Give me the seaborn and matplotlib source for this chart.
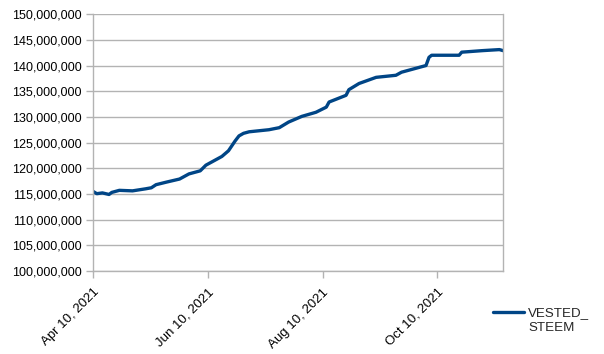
import pandas as pd
import numpy as np
import seaborn as sns
import matplotlib.pyplot as plt
import matplotlib.dates as mdates
from matplotlib.ticker import FuncFormatter

# day offsets from Apr 10, 2021 and VESTED_STEEM (millions)
days = [0, 2, 5, 8.5, 10, 14, 21, 28, 31, 33.5, 39, 46, 51, 57, 60, 63, 68.5, 72,
        75.5, 77.6, 80, 83, 93.5, 99, 104, 111, 118.5, 124, 125.5, 134.5, 136,
        141.4, 150.5, 161, 164, 177, 178.6, 180, 194.6, 196, 207, 216, 218]
vested = [115.5, 115.05, 115.2, 114.9, 115.3, 115.7, 115.6, 116.0, 116.2, 116.8,
          117.3, 117.9, 118.9, 119.5, 120.6, 121.2, 122.3, 123.4, 125.3, 126.3,
          126.8, 127.1, 127.5, 127.9, 129.0, 130.1, 130.9, 131.9, 132.9, 134.2,
          135.3, 136.5, 137.7, 138.1, 138.7, 140.0, 141.6, 142.0, 142.0, 142.6,
          142.9, 143.1, 142.9]
tick_dates = ["2021-04-10", "2021-06-10", "2021-08-10", "2021-10-10"]

start = pd.Timestamp("2021-04-10")
df = pd.DataFrame({
    "date": [start + pd.Timedelta(hours=d * 24) for d in days],
    "VESTED_STEEM": [v * 1e6 for v in vested],
})

sns.set_style("white")
plt.rcParams['font.family'] = ['Liberation Sans', 'DejaVu Sans']
plt.rcParams['font.size'] = 9

fig = plt.figure(figsize=(6.04, 3.54), dpi=100)
ax = fig.add_axes([0.154, 0.2345, 0.679, 0.7255])

sns.lineplot(data=df, x="date", y="VESTED_STEEM", ax=ax, color="#004586",
             linewidth=2.4, label="VESTED_")

grey = "#b3b3b3"
ax.set_ylim(100e6, 150e6)
ax.set_yticks(np.arange(100e6, 150e6 + 1, 5e6))
ax.yaxis.set_major_formatter(FuncFormatter(lambda v, p: f"{v:,.0f}"))
ax.set_xlim(start, pd.Timestamp("2021-11-14"))
ax.set_xticks(pd.to_datetime(tick_dates))
ax.xaxis.set_major_formatter(mdates.DateFormatter("%b %d, %Y"))
ax.set_xlabel("")
ax.set_ylabel("")

ax.grid(axis="y", color=grey, linewidth=1)
ax.grid(axis="x", visible=False)
for side in ["left", "right", "bottom"]:
    ax.spines[side].set_color(grey)
    ax.spines[side].set_linewidth(1)
ax.spines["top"].set_visible(False)
ax.tick_params(axis="both", direction="out", length=5, color=grey, width=1,
               labelcolor="black")
ax.tick_params(axis="y", left=True, pad=3, labelsize=9)
ax.tick_params(axis="x", bottom=True, pad=6, labelsize=9.5)
for lab in ax.get_xticklabels():
    lab.set_rotation(45)
    lab.set_ha("right")
    lab.set_rotation_mode("anchor")

leg = ax.legend(loc="center left", bbox_to_anchor=(0.806, 0.115),
                bbox_transform=fig.transFigure, frameon=False, handlelength=2.3,
                handletextpad=0.3, borderpad=0, fontsize=9.6)

# second line of the legend label, under the first one
fig.canvas.draw()
tb = leg.get_texts()[0].get_window_extent()
W, H = fig.bbox.width, fig.bbox.height
fig.text(tb.x0 / W, (tb.y0 - 15) / H, "STEEM", fontsize=9.6, ha="left", va="bottom")

fig.savefig("out.png", dpi=100)
